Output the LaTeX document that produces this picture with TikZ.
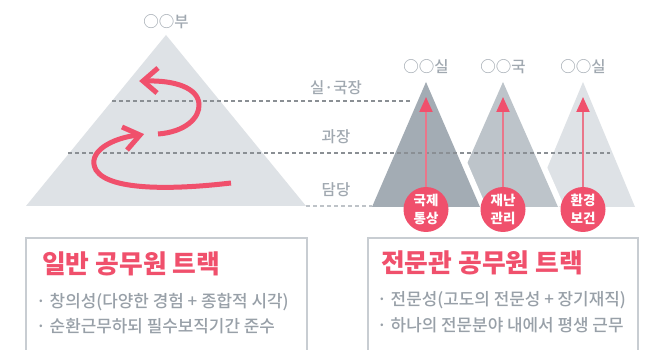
\documentclass[tikz,border=0pt]{standalone}
\usepackage{fontspec}
\setmainfont{Noto Sans CJK KR}
\newfontfamily\blackfont{Noto Sans CJK KR Black}
\newfontfamily\medfont{Noto Sans CJK KR Medium}
\usetikzlibrary{arrows.meta}
\definecolor{trilight}{RGB}{222,226,230}
\definecolor{tridark}{RGB}{163,172,180}
\definecolor{trimid}{RGB}{189,196,202}
\definecolor{redc}{RGB}{240,80,108}
\definecolor{shaftc}{RGB}{234,118,138}
\definecolor{labelgrey}{RGB}{160,168,176}
\definecolor{dashgrey}{RGB}{138,143,148}
\definecolor{dashlight}{RGB}{190,195,200}
\definecolor{boxgrey}{RGB}{200,205,210}
\definecolor{bulletgrey}{RGB}{152,160,168}
\begin{document}
\begin{tikzpicture}[x=1pt,y=-1pt,
  lbl/.style={text=labelgrey, font=\medfont\fontsize{15.5}{18}\selectfont, inner sep=0pt},
  dashline/.style={dashgrey, line width=1.2pt, dash pattern=on 4pt off 3pt},
  curl/.style={redc, line width=5pt},
  badge/.style={circle, fill=redc, minimum size=45pt, inner sep=0pt, text=white, align=center,
    font=\bfseries\fontsize{13.5}{18.5}\selectfont},
  shaft/.style={shaftc, line width=2pt, -{Triangle[length=15pt,width=13pt,color=redc]}},
  title/.style={text=redc, font=\blackfont\fontsize{25.8}{28}\selectfont, inner sep=0pt, anchor=west},
  bullet/.style={text=bulletgrey, font=\medfont\fontsize{16.9}{20}\selectfont, inner sep=0pt, anchor=west},
  boxline/.style={boxgrey, line width=1.2pt}]
\useasboundingbox (0,0) rectangle (646,350);
\fill[white] (0,0) rectangle (646,350);

% big pyramid
\fill[trilight] (166,35) -- (306,206) -- (26,206) -- cycle;

% right pyramids (back to front)
\fill[trilight] (583,82) -- (635,207) -- (531,207) -- cycle;
\draw[white, line width=12pt] (503,82) -- (558,207);
\fill[trimid] (503,82) -- (558,207) -- (448,207) -- cycle;
\draw[white, line width=12pt] (426,82) -- (480,207);
\fill[tridark] (426,82) -- (480,207) -- (372,207) -- cycle;

% dashed levels
\draw[dashline] (112,101) -- (410,101);
\draw[dashline] (68,153) -- (610,153);
\draw[dashlight, line width=1.2pt, dash pattern=on 4pt off 3pt] (306,206) -- (372,206);

% labels
\node[lbl] (bu) at (166,22) {○○부};
\node[lbl] (s1) at (426,67) {○○실};
\node[lbl] (g1) at (503,67) {○○국};
\node[lbl] (s2) at (583,67) {○○실};
\node[lbl] (l1) at (336,88) {실·국장};
\node[lbl] (l2) at (336,137) {과장};
\node[lbl] (l3) at (336,190) {담당};

% curly arrows
\draw[curl] (231,183) .. controls (180,189) and (110,192) .. (96,170)
  .. controls (86,152) and (112,138) .. (138,135);
\draw[curl] (122,127) -- (140,135) -- (127,150);
\draw[curl] (158,134) .. controls (185,132) and (200,118) .. (199,104)
  .. controls (198,88) and (175,80) .. (145,81);
\draw[curl] (158,68) -- (143,81) -- (157,93);

% badges and vertical arrows
\node[badge] (c1) at (426,209.5) {국제\\통상};
\node[badge] (c2) at (503,209.5) {재난\\관리};
\node[badge] (c3) at (583,209.5) {환경\\보건};
\coordinate (t1) at (426,97);
\coordinate (t2) at (503,97);
\coordinate (t3) at (583,97);
\draw[shaft] (c1.north) -- (t1);
\draw[shaft] (c2.north) -- (t2);
\draw[shaft] (c3.north) -- (t3);

% boxes
\draw[boxline] (26,351) -- (26,238) -- (307,238) -- (307,351);
\draw[boxline] (368,351) -- (368,238) -- (638,238) -- (638,351);

\node[title] (tl) at (42,264) {일반 공무원 트랙};
\node[bullet] (b1) at (36,302) {· 창의성(다양한 경험 + 종합적 시각)};
\node[bullet] (b2) at (36,326) {· 순환근무하되 필수보직기간 준수};

\node[title] (tr) at (381,263) {전문관 공무원 트랙};
\node[bullet] (b3) at (377,300) {· 전문성(고도의 전문성 + 장기재직)};
\node[bullet] (b4) at (377,325) {· 하나의 전문분야 내에서 평생 근무};
\end{tikzpicture}
\end{document}
